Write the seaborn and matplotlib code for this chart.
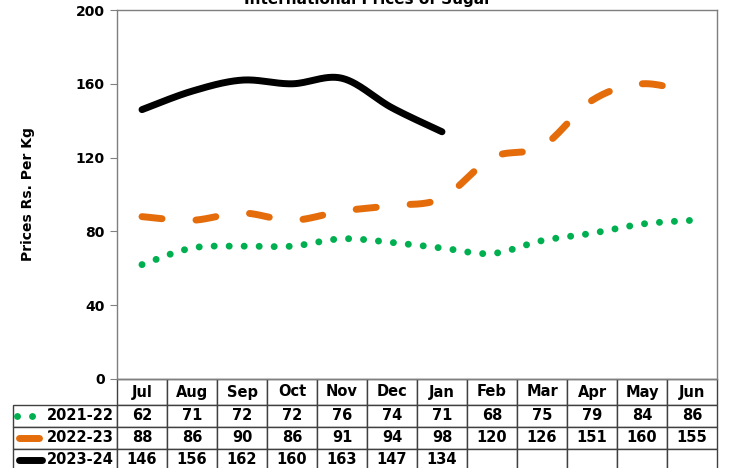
import numpy as np
import pandas as pd
import seaborn as sns
from matplotlib import pyplot as plt

# 数据
months = ['Jul', 'Aug', 'Sep', 'Oct', 'Nov', 'Dec', 'Jan', 'Feb', 'Mar', 'Apr', 'May', 'Jun']
seasons = ['2021-22', '2022-23', '2023-24']
prices_2122 = [62, 71, 72, 72, 76, 74, 71, 68, 75, 79, 84, 86]
prices_2223 = [88, 86, 90, 86, 91, 94, 98, 120, 126, 151, 160, 155]
prices_2324 = [146, 156, 162, 160, 163, 147, 134]
yticks = [0, 40, 80, 120, 160, 200]

colors = ['#00B050', '#E46C0A', '#000000']


def smooth(vals, n=30):
    # Excel 风格的平滑线 (Catmull-Rom / Bezier)
    p = np.array(vals, dtype=float)
    x = np.arange(len(p), dtype=float)
    xs, ys = [], []
    for i in range(len(p) - 1):
        i0, i3 = max(i - 1, 0), min(i + 2, len(p) - 1)
        t = np.linspace(0, 1, n, endpoint=False)
        for arr, out in ((x, xs), (p, ys)):
            b0, b3 = arr[i], arr[i + 1]
            b1 = b0 + (arr[i + 1] - arr[i0]) / 6
            b2 = b3 - (arr[i3] - arr[i]) / 6
            out.extend((1 - t) ** 3 * b0 + 3 * (1 - t) ** 2 * t * b1 + 3 * (1 - t) * t ** 2 * b2 + t ** 3 * b3)
    xs.append(x[-1])
    ys.append(p[-1])
    return np.array(xs), np.array(ys)


sns.set_style('white')
plt.rcParams['font.family'] = ['DejaVu Sans']
plt.rcParams['text.color'] = 'black'
plt.rcParams['ytick.color'] = 'black'
plt.rcParams['axes.labelcolor'] = 'black'

fig = plt.figure(figsize=(7.29, 4.68), dpi=100)
W, H = 729, 468
L, R, T, B = 117, 717, 10, 379
ax = fig.add_axes([L / W, 1 - B / H, (R - L) / W, (B - T) / H])

dot_style = dict(lw=5, linestyle=(0, (0.01, 2.15)), dash_capstyle='round')
styles = [
    dot_style,
    dict(lw=5, linestyle=(0, (2.9, 4.9)), dash_capstyle='round'),
    dict(lw=5, linestyle='-', solid_capstyle='round'),
]
for vals, c, st in zip([prices_2122, prices_2223, prices_2324], colors, styles):
    sx, sy = smooth(vals)
    df = pd.DataFrame({'x': sx, 'y': sy})
    sns.lineplot(data=df, x='x', y='y', ax=ax, color=c, sort=False, **st)

ax.set_xlim(-0.5, 11.5)
ax.set_ylim(0, 200)
ax.set_yticks(yticks)
ax.set_xticks([])
ax.set_xlabel('')
ax.tick_params(axis='y', left=True, length=5, color='#808080', labelsize=10, pad=4)
for lab in ax.get_yticklabels():
    lab.set_fontweight('bold')
ax.set_ylabel('Prices Rs. Per Kg', fontsize=10, fontweight='bold', labelpad=29)
for s in ax.spines.values():
    s.set_color('#7f7f7f')
    s.set_linewidth(1)

fig.text(0.505, 1 - 4 / H, 'International Prices of Sugar', ha='center', va='baseline',
         fontsize=11, fontweight='bold')

# 数据表
ah = B - T
rows = [[''] + months]
for vals in [prices_2122, prices_2223, prices_2324]:
    rows.append([''] + [str(v) for v in vals] + [''] * (12 - len(vals)))
head_h, row_h = 26, 22
tot_h = head_h + 3 * row_h
x0 = 13
tbl = ax.table(cellText=rows, colWidths=[L - x0] + [50] * 12, cellLoc='center',
               bbox=[(x0 - L) / (R - L), -tot_h / ah, (R - x0) / (R - L), tot_h / ah])
tbl.auto_set_font_size(False)
tbl.set_fontsize(10.5)
for (r, c), cell in tbl.get_celld().items():
    cell.set_edgecolor('#404040')
    cell.set_linewidth(1)
    cell.set_height((head_h if r == 0 else row_h) / 100)
    cell.get_text().set_fontweight('bold')
    if r == 0 and c == 0:
        cell.visible_edges = ''

# 行标签 + 图例样式
def ax_x(px):
    return (px - L) / (R - L)

key_end = [None, 38.5, 41.5]
for i, (name, c) in enumerate(zip(seasons, colors)):
    yc = -(head_h + row_h * i + row_h / 2) / ah
    ax.text(ax_x(114), yc, name, ha='right', va='center', fontsize=10.5, fontweight='bold',
            transform=ax.transAxes, clip_on=False)
    if i == 0:
        ax.plot([ax_x(17), ax_x(33)], [yc, yc], color=c, transform=ax.transAxes, clip_on=False,
                **dot_style)
    else:
        ax.plot([ax_x(18.5), ax_x(key_end[i])], [yc, yc], color=c, transform=ax.transAxes,
                clip_on=False, lw=5, solid_capstyle='round')

fig.savefig('out.png', dpi=100)
